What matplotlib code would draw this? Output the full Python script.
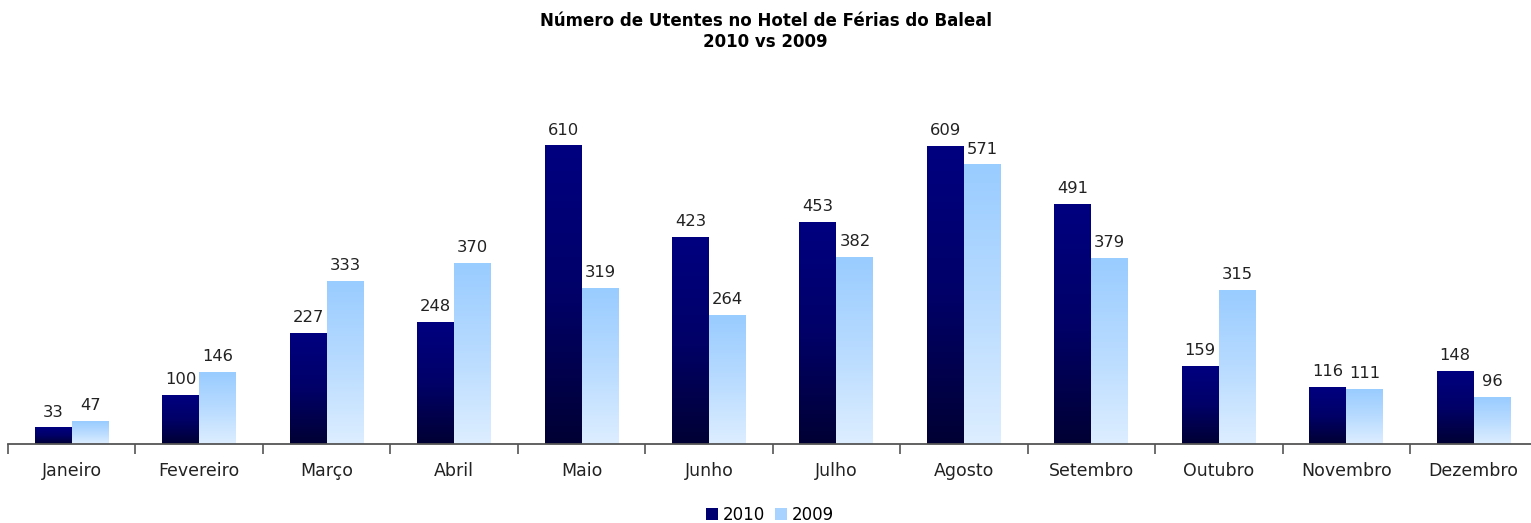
import numpy as np
import matplotlib.pyplot as plt
from matplotlib.colors import LinearSegmentedColormap
from matplotlib.patches import Patch

months = ['Janeiro', 'Fevereiro', 'Março', 'Abril', 'Maio', 'Junho',
          'Julho', 'Agosto', 'Setembro', 'Outubro', 'Novembro', 'Dezembro']
utentes_2010 = [33, 100, 227, 248, 610, 423, 453, 609, 491, 159, 116, 148]
utentes_2009 = [47, 146, 333, 370, 319, 264, 382, 571, 379, 315, 111, 96]

# gradients from bottom (0) to top (1)
cmap_2010 = LinearSegmentedColormap.from_list('c2010', [(0, '#000034'), (0.5, '#000068'), (1, '#000080')])
cmap_2009 = LinearSegmentedColormap.from_list('c2009', [(0, '#DDEEFF'), (0.5, '#B8DBFF'), (1, '#99CCFF')])

plt.rcParams['font.family'] = 'DejaVu Sans'

fig = plt.figure(figsize=(15.31, 5.23), dpi=100)
ax = fig.add_axes([8 / 1531, 79 / 523, 1529.4 / 1531, 344 / 523])

x = np.arange(len(months))
w = 0.29
grad = np.linspace(0, 1, 256).reshape(-1, 1)


def gradient_bars(xpos, values, cmap):
    bars = ax.bar(xpos, values, w, color='none', edgecolor='none')
    for b in bars:
        x0, y0 = b.get_x(), b.get_y()
        ax.imshow(grad, cmap=cmap, origin='lower', aspect='auto',
                  extent=(x0, x0 + b.get_width(), y0, y0 + b.get_height()), zorder=2)
    return bars


b10 = gradient_bars(x - w / 2, utentes_2010, cmap_2010)
b09 = gradient_bars(x + w / 2, utentes_2009, cmap_2009)

for bars, vals in ((b10, utentes_2010), (b09, utentes_2009)):
    for b, v in zip(bars, vals):
        ax.annotate(str(v), (b.get_x() + b.get_width() / 2, v), xytext=(0, 6),
                    textcoords='offset points', ha='center', va='bottom',
                    fontsize=11.8, color='#222222')

ax.set_xlim(-0.5, len(months) - 0.5)
ax.set_ylim(0, 704)

for s in ['top', 'right', 'left']:
    ax.spines[s].set_visible(False)
ax.spines['bottom'].set_color('#555555')
ax.spines['bottom'].set_linewidth(1.3)
ax.set_yticks([])

ax.set_xticks(np.arange(len(months) + 1) - 0.5, minor=False)
ax.set_xticklabels([])
ax.tick_params(axis='x', which='major', length=7, width=1.2, color='#555555')
ax.set_xticks(x, minor=True)
ax.set_xticklabels(months, minor=True, fontsize=12.5, color='#222222')
ax.tick_params(axis='x', which='minor', length=0, pad=13)

fig.text(0.5, 0.977, 'Número de Utentes no Hotel de Férias do Baleal\n2010 vs 2009',
         ha='center', va='top', fontsize=12, fontweight='bold', linespacing=1.22)

handles = [Patch(facecolor='#000070', label='2010'), Patch(facecolor='#A8D2FF', label='2009')]
fig.legend(handles=handles, loc='center', bbox_to_anchor=(770 / 1531, 1 - 515 / 523),
           ncol=2, frameon=False, fontsize=12, handlelength=0.7, handleheight=0.7,
           handletextpad=0.3, columnspacing=0.6)

fig.savefig('out.png', dpi=100)
